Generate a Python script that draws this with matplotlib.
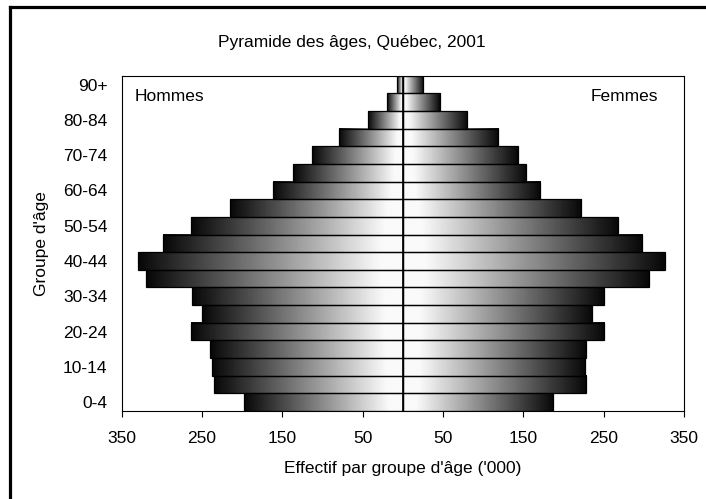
import numpy as np
import matplotlib
matplotlib.use("Agg")
import matplotlib.pyplot as plt
from matplotlib.lines import Line2D

# ---- data ----
age_groups = ["0-4", "5-9", "10-14", "15-19", "20-24", "25-29", "30-34", "35-39",
              "40-44", "45-49", "50-54", "55-59", "60-64", "65-69", "70-74",
              "75-79", "80-84", "85-89", "90+"]
hommes = [197, 235, 237, 240, 263, 250, 262, 320, 330, 298, 264, 215, 161,
          137, 113, 79, 43, 19, 7]
femmes = [187, 228, 227, 228, 251, 236, 250, 307, 326, 298, 268, 222, 171,
          154, 143, 119, 80, 46, 25]
xtick_values = [-350, -250, -150, -50, 50, 150, 250, 350]
xtick_labels = ["350", "250", "150", "50", "50", "150", "250", "350"]
title = "Pyramide des âges, Québec, 2001"
xlabel = "Effectif par groupe d'âge ('000)"
ylabel = "Groupe d'âge"

plt.rcParams['font.family'] = ['Liberation Sans', 'DejaVu Sans']
FS = 12.5

fig = plt.figure(figsize=(7.06, 4.99), dpi=100)
ax = fig.add_axes([0.1721, 0.1764, 0.7967, 0.6719])

# gradient: t=0 outer end (dark) -> t=1 centre (light)
t = np.linspace(0, 1, 256)
g = np.clip(0.03 + 1.04 * t, 0.0, 0.98)
grad_men = g[np.newaxis, :]          # left dark -> right light
grad_women = g[::-1][np.newaxis, :]  # left light -> right dark

y = np.arange(len(age_groups))
for i, (h, f) in enumerate(zip(hommes, femmes)):
    ax.imshow(grad_men, extent=[-h, 0, i - 0.5, i + 0.5], aspect='auto',
              cmap='gray', vmin=0, vmax=1, interpolation='bilinear', zorder=1)
    ax.imshow(grad_women, extent=[0, f, i - 0.5, i + 0.5], aspect='auto',
              cmap='gray', vmin=0, vmax=1, interpolation='bilinear', zorder=1)

ax.barh(y, [-v for v in hommes], height=1.0, left=0, facecolor='none',
        edgecolor='black', linewidth=0.9, zorder=2)
ax.barh(y, femmes, height=1.0, left=0, facecolor='none',
        edgecolor='black', linewidth=0.9, zorder=2)
ax.axvline(0, color='black', linewidth=1.2, zorder=3)

ax.set_xlim(-350, 350)
ax.set_ylim(-0.5, len(age_groups) - 0.5)

ax.set_xticks(xtick_values)
ax.set_xticklabels(xtick_labels, fontsize=FS)
ax.set_yticks(y[::2])
ax.set_yticklabels(age_groups[::2], fontsize=FS)
ax.tick_params(axis='x', direction='out', length=4.5, width=0.8, pad=10)
ax.tick_params(axis='y', length=0, pad=10)
for s in ax.spines.values():
    s.set_linewidth(0.8)
    s.set_color('black')

ax.set_xlabel(xlabel, fontsize=FS, va='center')
ax.xaxis.set_label_coords(0.5, -0.172)
ax.set_ylabel(ylabel, fontsize=FS, va='center')
ax.yaxis.set_label_coords(-0.142, 0.5)

ax.text(0.024, 0.939, "Hommes", transform=ax.transAxes, fontsize=FS,
        ha='left', va='center')
ax.text(0.954, 0.939, "Femmes", transform=ax.transAxes, fontsize=FS,
        ha='right', va='center')

fig.text(0.4986, 0.9158, title, fontsize=FS, ha='center', va='center')

# partial outer frame (top and left)
fig.add_artist(Line2D([0.0136, 0.0136], [0.0, 0.9852], transform=fig.transFigure,
                      color='black', linewidth=2.3, solid_capstyle='projecting'))
fig.add_artist(Line2D([0.0136, 1.0], [0.9852, 0.9852], transform=fig.transFigure,
                      color='black', linewidth=2.3, solid_capstyle='projecting'))

fig.savefig("out.png", dpi=100)
